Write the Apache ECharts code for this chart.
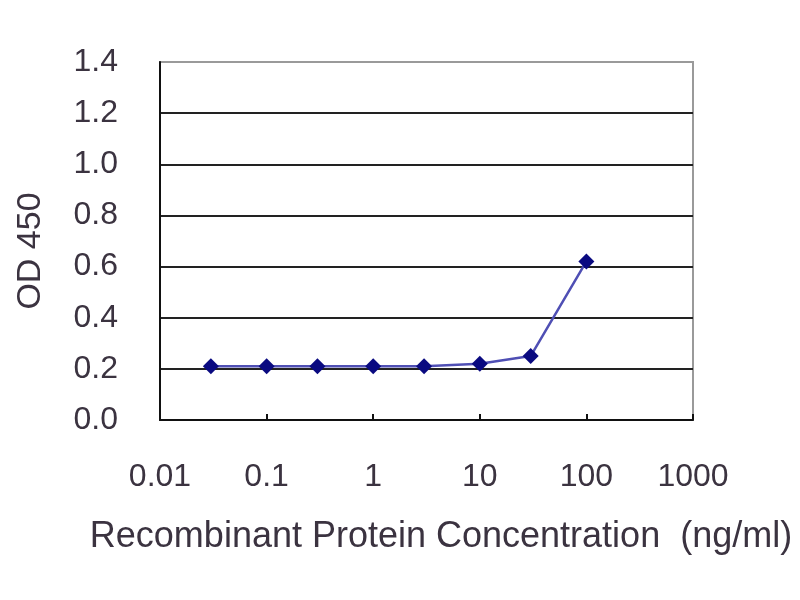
<!DOCTYPE html>
<html>
<head>
<meta charset="utf-8">
<script src="https://cdn.jsdelivr.net/npm/echarts@6/dist/echarts.min.js"></script>
<style>html,body{margin:0;padding:0;background:#fff;}#chart{width:800px;height:600px;}</style>
</head>
<body>
<div id="chart"></div>
<script>
const concentrations = [0.03, 0.1, 0.3, 1, 3, 10, 30, 100];
const od450 = [0.21, 0.21, 0.21, 0.21, 0.21, 0.22, 0.25, 0.62];
const xTickLabels = ['0.01', '0.1', '1', '10', '100', '1000'];
const yTickLabels = ['0.0', '0.2', '0.4', '0.6', '0.8', '1.0', '1.2', '1.4'];
const xTitle = 'Recombinant Protein Concentration  (ng/ml)';
const yTitle = 'OD 450';

const textColor = '#3b3340';
const font = 'Liberation Sans, Arial, sans-serif';
const chart = echarts.init(document.getElementById('chart'));
chart.setOption({
  animation: false,
  backgroundColor: '#ffffff',
  grid: { left: 160, right: 107, top: 62, bottom: 180, show: true, borderColor: '#9a9a9a', borderWidth: 2 },
  xAxis: {
    type: 'log', logBase: 10, min: 0.01, max: 1000,
    name: xTitle, nameLocation: 'middle', nameGap: 99,
    nameTextStyle: { fontSize: 36, color: textColor, fontFamily: font, padding: [0, 0, 0, 29] },
    axisLine: { lineStyle: { color: '#111', width: 2 } },
    axisTick: { show: true, inside: true, length: 6, lineStyle: { color: '#111', width: 2 } },
    minorTick: { show: false },
    splitLine: { show: false },
    axisLabel: {
      fontSize: 32, color: textColor, fontFamily: font, margin: 41,
      formatter: function (v) { const i = Math.round(Math.log10(v)) + 2; return xTickLabels[i] !== undefined ? xTickLabels[i] : ''; }
    }
  },
  yAxis: {
    type: 'value', min: 0, max: 1.4, interval: 0.2,
    name: yTitle, nameLocation: 'middle', nameGap: 112,
    nameTextStyle: { fontSize: 34, color: textColor, fontFamily: font, padding: [0, 20, 0, 0] },
    axisLine: { show: true, lineStyle: { color: '#111', width: 2 } },
    axisTick: { show: false },
    splitLine: { show: true, showMaxLine: false, lineStyle: { color: '#222', width: 2 } },
    axisLabel: {
      fontSize: 32, color: textColor, fontFamily: font, margin: 42,
      formatter: function (v) { const i = Math.round(v / 0.2); return yTickLabels[i] !== undefined ? yTickLabels[i] : ''; }
    }
  },
  series: [{
    type: 'line',
    data: concentrations.map((c, i) => [c, od450[i]]),
    symbol: 'diamond', symbolSize: 16,
    itemStyle: { color: '#0a0a80' },
    lineStyle: { color: '#4f4fb4', width: 2.5 }
  }]
});
</script>
</body>
</html>
